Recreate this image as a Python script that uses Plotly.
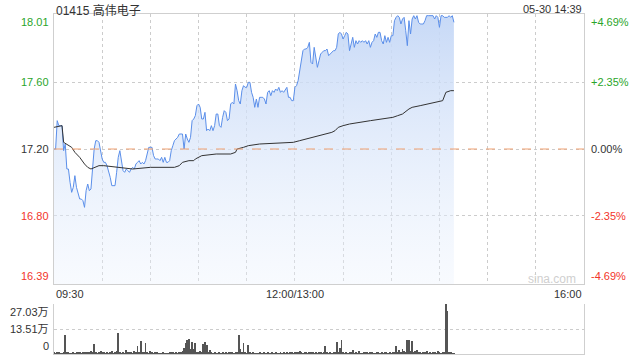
import plotly.graph_objects as go

# ---- data ----
title_text = "01415 高伟电子"
stamp_text = "05-30 14:39"
prev_close = 17.20
price_ticks = [18.01, 17.60, 17.20, 16.80, 16.39]
pct_ticks = ["+4.69%", "+2.35%", "0.00%", "-2.35%", "-4.69%"]
vol_ticks = [27.03, 13.51, 0]
vol_tick_labels = ["27.03万", "13.51万", "0"]
time_labels = ["09:30", "12:00/13:00", "16:00"]
time_label_pos = [0, 150, 330]
session_minutes = 330

price = [
    17.20, 17.20, 17.37, 17.34, 17.34, 17.34, 17.19, 17.23, 17.08, 17.08,
    17.00, 16.94, 16.97, 17.04, 16.97, 16.94, 16.90, 16.90, 16.89, 16.85,
    16.95, 16.99, 16.95, 16.96, 17.09, 17.20, 17.25, 17.25, 17.24, 17.18,
    17.14, 17.12, 17.12, 17.10, 17.07, 17.03, 16.98, 16.98, 16.98, 17.06,
    17.15, 17.19, 17.14, 17.07, 17.06, 17.08, 17.07, 17.06, 17.08, 17.09,
    17.08, 17.11, 17.12, 17.13, 17.11, 17.12, 17.11, 17.13, 17.17, 17.21,
    17.21, 17.21, 17.16, 17.14, 17.14, 17.14, 17.13, 17.15, 17.12, 17.15,
    17.12, 17.12, 17.13, 17.19, 17.22, 17.25, 17.26, 17.27, 17.29, 17.29,
    17.29, 17.20, 17.29, 17.26, 17.24, 17.27, 17.37, 17.38, 17.40, 17.46,
    17.47, 17.45, 17.38, 17.38, 17.42, 17.31, 17.32, 17.31, 17.34, 17.31,
    17.34, 17.41, 17.41, 17.34, 17.33, 17.39, 17.43, 17.42, 17.37, 17.38,
    17.47, 17.48, 17.47, 17.59, 17.55, 17.49, 17.47, 17.55, 17.58, 17.57,
    17.57, 17.60, 17.60, 17.54, 17.51, 17.45, 17.50, 17.45, 17.51, 17.51,
    17.51, 17.50, 17.47, 17.54, 17.55, 17.52, 17.55, 17.54, 17.56, 17.55,
    17.57, 17.54, 17.55, 17.54, 17.56, 17.57, 17.51, 17.51, 17.49, 17.49,
    17.57, 17.58, 17.61, 17.67, 17.74, 17.79, 17.80, 17.80, 17.81, 17.84,
    17.72, 17.71, 17.81, 17.75, 17.69, 17.73, 17.77, 17.78, 17.79, 17.79,
    17.80, 17.76, 17.77, 17.78, 17.79, 17.79, 17.81, 17.89, 17.90, 17.89,
    17.86, 17.88, 17.90, 17.89, 17.79, 17.83, 17.87, 17.81, 17.85, 17.83,
    17.85, 17.84, 17.85, 17.84, 17.85, 17.83, 17.85, 17.81, 17.84, 17.85,
    17.89, 17.87, 17.90, 17.90, 17.85, 17.83, 17.88, 17.84, 17.87, 17.84,
    17.88, 17.88, 17.97, 17.99, 18.00, 17.99, 17.95, 17.98, 17.99, 17.91,
    17.82, 17.97, 17.89, 17.98, 18.00, 17.98, 18.00, 17.96, 17.95, 17.95,
    17.95, 17.97, 18.00, 18.00, 18.00, 18.00, 18.00, 17.98, 18.00, 17.99,
    17.93, 18.00, 18.00, 17.99, 17.99, 17.99, 18.00, 17.99, 18.00, 17.96,
]

avg_minutes = [0, 5, 6, 9, 11, 13, 16, 19, 21, 23, 26, 28, 31, 39, 49, 60, 75,
               78, 80, 84, 87, 88, 90, 92, 101, 110, 113, 114, 118, 121, 128,
               149, 153, 157, 166, 169, 173, 175, 177, 180, 184, 197, 211, 214,
               217, 221, 223, 228, 239, 242, 244, 247, 249]
avg_price = [17.33, 17.34, 17.24, 17.22, 17.21, 17.18, 17.15, 17.11, 17.09,
             17.08, 17.09, 17.10, 17.10, 17.09, 17.08, 17.09, 17.09, 17.10,
             17.12, 17.13, 17.13, 17.14, 17.15, 17.16, 17.17, 17.17, 17.18,
             17.20, 17.21, 17.22, 17.23, 17.24, 17.25, 17.26, 17.28, 17.29,
             17.30, 17.31, 17.33, 17.34, 17.35, 17.37, 17.39, 17.40, 17.41,
             17.44, 17.45, 17.46, 17.48, 17.49, 17.54, 17.55, 17.55]

volume = [  # 万股 per minute
    0.8, 0.5, 1.0, 0.6, 0.3, 0.5, 0.9, 10.3, 0.8, 0.6,
    0.5, 0.4, 0.7, 0.3, 1.3, 0.6, 0.8, 0.5, 1.0, 1.1,
    1.3, 0.6, 0.9, 1.5, 0.7, 5.4, 0.9, 0.5, 1.2, 1.6,
    0.8, 0.6, 0.5, 0.9, 0.4, 0.7, 1.6, 0.5, 0.8, 1.7,
    11.5, 0.9, 0.5, 0.7, 0.4, 2.2, 0.8, 0.6, 1.0, 0.5,
    1.8, 0.6, 4.3, 0.9, 7.0, 0.8, 1.2, 6.1, 0.7, 0.5,
    1.6, 0.9, 0.4, 0.6, 0.8, 0.3, 0.5, 0.4, 0.7, 0.3,
    0.5, 0.4, 0.6, 0.9, 1.2, 0.5, 0.7, 0.4, 1.0, 0.6,
    1.6, 3.1, 5.8, 7.7, 8.1, 2.5, 6.3, 2.7, 5.8, 0.9,
    0.6, 1.6, 0.8, 5.4, 6.3, 4.9, 0.8, 2.2, 0.6, 0.4,
    0.8, 0.5, 0.3, 0.6, 0.4, 1.2, 0.5, 0.7, 0.4, 0.6,
    0.9, 1.3, 0.5, 0.8, 0.6, 10.3, 2.9, 0.7, 6.1, 0.6,
    0.5, 4.9, 0.7, 0.4, 0.9, 0.3, 0.5, 0.4, 0.6, 0.3,
    0.5, 0.7, 0.4, 0.6, 0.3, 0.5, 0.8, 0.4, 0.6, 0.3,
    0.5, 0.7, 0.4, 0.6, 0.5, 0.9, 0.4, 0.6, 0.8, 0.5,
    1.2, 0.6, 0.9, 1.6, 0.8, 0.5, 1.0, 0.7, 0.4, 1.2,
    0.6, 0.8, 0.5, 0.9, 0.4, 1.2, 0.6, 0.5, 0.9, 4.5,
    0.6, 0.4, 0.8, 0.5, 0.7, 0.9, 6.3, 0.8, 3.4, 7.4,
    0.6, 0.5, 0.8, 0.4, 0.7, 0.6, 2.3, 0.5, 0.7, 0.4,
    1.6, 0.5, 0.4, 0.7, 0.6, 0.9, 0.4, 0.6, 1.0, 0.5,
    0.4, 0.8, 0.6, 0.5, 0.7, 0.4, 0.6, 0.9, 0.5, 0.7,
    0.4, 0.8, 1.0, 4.5, 0.9, 2.3, 0.8, 2.7, 1.8, 0.9,
    7.7, 7.4, 1.8, 7.2, 0.9, 1.6, 2.3, 0.7, 1.2, 0.5,
    0.8, 0.6, 1.6, 0.5, 0.7, 0.4, 0.9, 0.6, 0.5, 1.8,
    0.6, 0.5, 1.2, 0.7, 27.03, 23.4, 0.6, 1.0, 0.5, 0.4,
]

minute_index = list(range(len(price)))

# ---- styles ----
FONT = "Liberation Sans, Arial, Noto Sans CJK SC, sans-serif"
GREEN = "#2aa52a"
RED = "#f2352a"
DARK = "#333333"
GRID = "#cccccc"
BORDER = "#cfcfcf"
label_colors = [GREEN, GREEN, DARK, RED, RED]

fig = go.Figure()

fig.add_trace(go.Scatter(
    x=minute_index, y=price, mode="lines",
    line=dict(color="#5b8fea", width=1),
    fill="tozeroy",
    fillgradient=dict(type="vertical", start=price_ticks[-1], stop=price_ticks[0],
                      colorscale=[[0, "rgba(235,242,253,0.35)"], [1, "rgba(196,215,246,0.95)"]]),
    xaxis="x", yaxis="y", hoverinfo="skip", showlegend=False,
))
fig.add_trace(go.Scatter(
    x=avg_minutes, y=avg_price, mode="lines",
    line=dict(color="#333333", width=1),
    xaxis="x", yaxis="y", hoverinfo="skip", showlegend=False,
))
fig.add_trace(go.Bar(
    x=minute_index, y=volume, width=0.55,
    marker=dict(color="#555555", line=dict(width=0)),
    xaxis="x2", yaxis="y2", hoverinfo="skip", showlegend=False,
))

W, H = 640, 360
x0, x1 = 54, 584
main_top, main_bot = 14, 284
vol_top, vol_bot = 304, 354
xdom = [x0 / W, x1 / W]

fig.update_layout(
    width=W, height=H, margin=dict(l=0, r=0, t=0, b=0),
    paper_bgcolor="white", plot_bgcolor="white",
    font=dict(family=FONT, size=11, color=DARK),
    xaxis=dict(domain=xdom, range=[0, session_minutes], tickvals=list(range(0, 331, 30)),
               showticklabels=False, ticks="", showgrid=True, gridcolor=GRID, griddash="dot",
               gridwidth=1, showline=True, linecolor=BORDER, mirror=True, zeroline=False,
               anchor="y"),
    yaxis=dict(domain=[1 - main_bot / H, 1 - main_top / H], range=[price_ticks[-1], price_ticks[0]],
               tickvals=price_ticks, showticklabels=False, ticks="", showgrid=True,
               gridcolor=GRID, griddash="dot", showline=True, linecolor=BORDER, mirror=True,
               zeroline=False, anchor="x"),
    xaxis2=dict(domain=xdom, range=[0, session_minutes], showticklabels=False, ticks="",
                showgrid=False, showline=True, linecolor=BORDER, zeroline=False, anchor="y2"),
    yaxis2=dict(domain=[1 - vol_bot / H, 1 - vol_top / H], range=[0, vol_ticks[0]],
                tickvals=vol_ticks[:2], showticklabels=False, ticks="", showgrid=True,
                gridcolor=GRID, griddash="dot", showline=True, linecolor=BORDER, mirror=True,
                zeroline=False, anchor="x2"),
    bargap=0,
)

# previous close dashed line
fig.add_shape(type="line", xref="x", yref="y", x0=0, x1=session_minutes,
              y0=prev_close, y1=prev_close, line=dict(color="#f0a070", width=1, dash="dash"))

ann = []
# left price labels & right pct labels
for i, (p, pc) in enumerate(zip(price_ticks, pct_ticks)):
    yanchor = "top" if i == 0 else ("bottom" if i == len(price_ticks) - 1 else "middle")
    ann.append(dict(x=x0 - 3, y=p, xref="paper", yref="y", text=str("%.2f" % p),
                    showarrow=False, xanchor="right", yanchor=yanchor,
                    font=dict(size=11, color=label_colors[i])))
    ann.append(dict(x=x1 + 5, y=p, xref="paper", yref="y", text=pc,
                    showarrow=False, xanchor="left", yanchor=yanchor,
                    font=dict(size=11, color=label_colors[i])))
# fix xref to pixel fractions
for a in ann:
    a["x"] = a["x"] / W

# time labels
anchors = ["left", "center", "right"]
for t, pos, anc in zip(time_labels, time_label_pos, anchors):
    ann.append(dict(x=pos, y=1 - 286 / H, xref="x", yref="paper", text=t, showarrow=False,
                    xanchor=anc, yanchor="top", font=dict(size=11, color=DARK)))
# volume labels
for i, (v, lab) in enumerate(zip(vol_ticks, vol_tick_labels)):
    yanchor = "top" if i == 0 else ("bottom" if i == len(vol_ticks) - 1 else "middle")
    ann.append(dict(x=(x0 - 3) / W, y=v, xref="paper", yref="y2", text=lab, showarrow=False,
                    xanchor="right", yanchor=yanchor, font=dict(size=11, color=DARK)))
# title + timestamp
ann.append(dict(x=x0 / W, y=1 - 1 / H, xref="paper", yref="paper", text=title_text,
                showarrow=False, xanchor="left", yanchor="top", font=dict(size=12, color=DARK)))
ann.append(dict(x=x1 / W, y=1 - 1 / H, xref="paper", yref="paper", text=stamp_text,
                showarrow=False, xanchor="right", yanchor="top", font=dict(size=11, color=DARK)))
# watermark
ann.append(dict(x=552 / W, y=1 - 279 / H, xref="paper", yref="paper", text="sina.com",
                showarrow=False, xanchor="center", yanchor="middle",
                font=dict(size=12, color="#cfcfcf")))

fig.update_layout(annotations=ann)

fig.write_html("out.html")
